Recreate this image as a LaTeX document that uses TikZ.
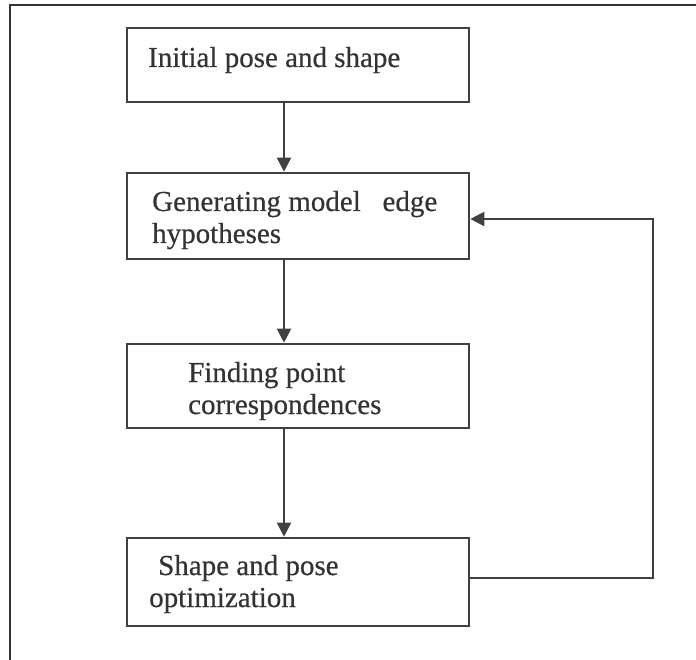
\documentclass[tikz,border=0pt]{standalone}
\usepackage{fontspec}
\setmainfont{Liberation Serif}
\newfontfamily\lblfont{Liberation Serif}[FakeBold=0.5]
\usetikzlibrary{arrows.meta}
\begin{document}
\begin{tikzpicture}[x=1pt,y=-1pt,
  frameline/.style={line width=2.2pt,draw=black!80},
  box/.style={draw=black!75,line width=2.6pt,rectangle,inner sep=0pt},
  lbl/.style={anchor=base west,inner sep=0pt,font=\lblfont\fontsize{29}{32}\selectfont,text=black!80},
  conn/.style={draw=black!75,line width=2pt},
  arr/.style={conn,-{Triangle[length=14pt,width=14pt]}}]
\useasboundingbox (0,0) rectangle (696,660);
% outer frame (cropped)
\coordinate (fA) at (10,660);
\coordinate (fB) at (10,5);
\coordinate (fC) at (696,5);
\draw[frameline] (fA) -- (fB) -- (fC);
% boxes
\node[box,minimum width=342pt,minimum height=74pt] (b1) at (298,65) {};
\node[box,minimum width=342pt,minimum height=86pt] (b2) at (298,216) {};
\node[box,minimum width=342pt,minimum height=84pt] (b3) at (298,386) {};
\node[box,minimum width=342pt,minimum height=88pt] (b4) at (298,582) {};
% labels
\node[lbl] (t1) at (148,67) {Initial pose and shape};
\node[lbl] (t2a) at (152,211) {Generating model\ \ \ edge};
\node[lbl] (t2b) at (152,243) {hypotheses};
\node[lbl] (t3a) at (188,382) {Finding point};
\node[lbl] (t3b) at (188,414) {correspondences};
\node[lbl] (t4a) at (158,575) {Shape and pose};
\node[lbl] (t4b) at (149,607) {optimization};
% connectors
\coordinate (ax) at (284,0);
\draw[arr] (b1.south -| ax) -- (b2.north -| ax);
\draw[arr] (b2.south -| ax) -- (b3.north -| ax);
\draw[arr] (b3.south -| ax) -- (b4.north -| ax);
\coordinate (fy1) at (0,578);
\coordinate (fy2) at (0,219);
\coordinate (fx) at (653,0);
\draw[arr] (b4.east |- fy1) -| (fx |- fy2) -- (b2.east |- fy2);
\end{tikzpicture}
\end{document}
